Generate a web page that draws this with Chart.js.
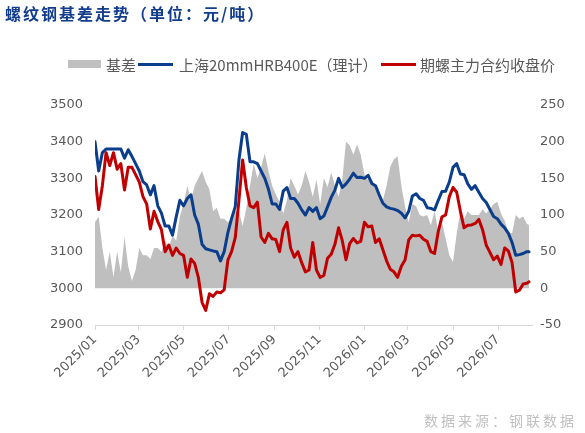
<!DOCTYPE html>
<html><head><meta charset="utf-8">
<script src="https://cdn.jsdelivr.net/npm/chart.js@4.4.1/dist/chart.umd.min.js"></script>
<style>
html,body{margin:0;padding:0;background:#fff;width:585px;height:433px;overflow:hidden;}
#wrap{position:relative;width:585px;height:433px;}
#c{position:absolute;left:0;top:0;}
.title{position:absolute;left:5px;top:5px;font:bold 16px "Noto Sans CJK SC";line-height:16px;letter-spacing:2px;color:#123c8c;white-space:nowrap;}
.lg{position:absolute;top:57px;font:15px "Noto Sans CJK SC";line-height:15px;color:#595959;white-space:nowrap;}
.sw{position:absolute;}
.src{position:absolute;left:424px;top:413px;font:14px "Noto Sans CJK SC";line-height:14px;color:#c0c0c0;letter-spacing:3px;white-space:nowrap;}
</style></head>
<body><div id="wrap">
<canvas id="c" width="585" height="433"></canvas>
<div class="title">螺纹钢基差走势（单位：元/吨）</div>
<div id="legend"></div>
<div class="src">数据来源：钢联数据</div>
</div>
<script>
const dates = [
'2025-01-01','2025-01-06','2025-01-11','2025-01-16','2025-01-21','2025-01-26','2025-01-31','2025-02-05','2025-02-10','2025-02-15',
'2025-02-20','2025-02-25','2025-03-02','2025-03-07','2025-03-12','2025-03-17','2025-03-22','2025-03-27','2025-04-01','2025-04-06',
'2025-04-11','2025-04-16','2025-04-21','2025-04-26','2025-05-01','2025-05-06','2025-05-11','2025-05-16','2025-05-21','2025-05-26',
'2025-05-31','2025-06-05','2025-06-10','2025-06-15','2025-06-20','2025-06-25','2025-06-30','2025-07-05','2025-07-10','2025-07-15',
'2025-07-20','2025-07-25','2025-07-30','2025-08-04','2025-08-09','2025-08-14','2025-08-19','2025-08-24','2025-08-29','2025-09-03',
'2025-09-08','2025-09-13','2025-09-18','2025-09-23','2025-09-28','2025-10-03','2025-10-08','2025-10-13','2025-10-18','2025-10-23',
'2025-10-28','2025-11-02','2025-11-07','2025-11-12','2025-11-17','2025-11-22','2025-11-27','2025-12-02','2025-12-07','2025-12-12',
'2025-12-17','2025-12-22','2025-12-27','2026-01-01','2026-01-06','2026-01-11','2026-01-16','2026-01-21','2026-01-26','2026-01-31',
'2026-02-05','2026-02-10','2026-02-15','2026-02-20','2026-02-25','2026-03-02','2026-03-07','2026-03-12','2026-03-17','2026-03-22',
'2026-03-27','2026-04-01','2026-04-06','2026-04-11','2026-04-16','2026-04-21','2026-04-26','2026-05-01','2026-05-06','2026-05-11',
'2026-05-16','2026-05-21','2026-05-26','2026-05-31','2026-06-05','2026-06-10','2026-06-15','2026-06-20','2026-06-25','2026-06-30',
'2026-07-05','2026-07-10','2026-07-15','2026-07-20','2026-07-25','2026-07-30','2026-08-04','2026-08-09','2026-08-12'
];
const basis = [
90,98,55,25,50,15,50,22,70,30,
10,25,55,45,45,40,55,55,50,65,
55,72,65,98,115,140,120,140,150,160,
145,135,105,110,95,95,90,95,105,105,
85,110,140,170,150,165,184,160,140,128,
118,102,120,150,140,128,140,160,145,125,
148,115,150,138,158,140,125,148,200,195,
182,196,182,155,148,148,135,124,120,140,
166,176,180,140,112,90,115,112,100,98,
100,86,105,78,90,68,45,36,75,105,
95,105,100,100,100,108,102,108,115,118,
102,92,76,75,100,95,98,88,86
];
const spot = [
3400,3320,3370,3380,3380,3380,3380,3380,3355,3378,
3360,3340,3320,3291,3282,3255,3280,3225,3205,3170,
3170,3145,3195,3240,3225,3245,3255,3200,3175,3120,
3108,3105,3102,3100,3075,3100,3152,3190,3223,3350,
3425,3420,3345,3345,3340,3320,3300,3270,3230,3230,
3215,3265,3275,3245,3245,3232,3214,3200,3220,3210,
3220,3190,3197,3222,3248,3268,3300,3275,3285,3298,
3314,3302,3303,3300,3308,3286,3280,3255,3232,3222,
3218,3216,3212,3205,3192,3210,3252,3258,3245,3240,
3220,3218,3214,3240,3264,3265,3290,3330,3340,3312,
3310,3285,3270,3280,3262,3245,3234,3215,3196,3190,
3175,3165,3150,3125,3090,3092,3095,3100,3100
];
const futures = [
3305,3215,3280,3370,3335,3370,3325,3340,3268,3330,
3330,3310,3290,3250,3230,3162,3210,3182,3160,3100,
3118,3090,3110,3095,3090,3030,3080,3068,3030,2962,
2940,2985,2978,2990,2988,2996,3077,3100,3138,3240,
3350,3275,3225,3220,3235,3140,3125,3150,3135,3133,
3100,3160,3180,3110,3085,3100,3070,3045,3050,3125,
3050,3030,3035,3082,3093,3120,3165,3130,3078,3122,
3136,3124,3128,3180,3168,3170,3125,3135,3105,3075,
3052,3045,3030,3060,3077,3132,3145,3143,3145,3134,
3128,3100,3095,3155,3195,3200,3250,3275,3262,3210,
3165,3172,3173,3177,3188,3160,3118,3098,3078,3088,
3065,3110,3102,3070,2990,2995,3012,3014,3018
];
const xTickDates = ['2025-01-01','2025-03-01','2025-05-01','2025-07-01','2025-09-01','2025-11-01','2026-01-01','2026-03-01','2026-05-01','2026-07-01'];
const xTickLabels = ['2025/01','2025/03','2025/05','2025/07','2025/09','2025/11','2026/01','2026/03','2026/05','2026/07'];
const xEndDate = '2026-08-16';
const leftRange = [2900, 3500, 100];
const rightRange = [-50, 250, 50];
const seriesNames = ['基差', '上海20mmHRB400E（理计）', '期螺主力合约收盘价'];

const BASE = Date.UTC(2025,0,1), DAY = 86400000;
function dayOf(s){const p=s.split('-').map(Number);return (Date.UTC(p[0],p[1]-1,p[2])-BASE)/DAY;}
const xs = dates.map(dayOf);
const pts = arr => arr.map((v,i)=>({x:xs[i], y:v}));
const tickVals = xTickDates.map(dayOf);

const tickFont = {family:'DejaVu Sans', size:13};
const chart = new Chart(document.getElementById('c'), {
  type:'line',
  data:{datasets:[
    {label:seriesNames[0], data:pts(basis), yAxisID:'y1', fill:'origin', backgroundColor:'#bfbfbf', borderColor:'rgba(0,0,0,0)', borderWidth:0, pointRadius:0, tension:0, order:3},
    {label:seriesNames[1], data:pts(spot), yAxisID:'y', fill:false, borderColor:'#0a3d8b', borderWidth:3, pointRadius:0, tension:0, borderJoinStyle:'round', borderCapStyle:'round', order:2},
    {label:seriesNames[2], data:pts(futures), yAxisID:'y', fill:false, borderColor:'#c00000', borderWidth:3, pointRadius:0, tension:0, borderJoinStyle:'round', borderCapStyle:'round', order:1}
  ]},
  options:{
    responsive:false, animation:false, devicePixelRatio:1,
    layout:{padding:{top:105,left:0,right:0,bottom:0}},
    plugins:{legend:{display:false}, tooltip:{enabled:false}, title:{display:false}},
    scales:{
      x:{type:'linear', min:0, max:dayOf(xEndDate),
        afterBuildTicks:s=>{s.ticks = tickVals.map(v=>({value:v}));},
        afterFit:s=>{s.height=108;},
        ticks:{autoSkip:false, minRotation:45, maxRotation:45, color:'#595959', font:tickFont, padding:2,
          callback:v=>{const i=tickVals.indexOf(v);return i>=0?xTickLabels[i]:'';}},
        grid:{drawOnChartArea:false, drawTicks:true, tickLength:5, color:'#d9d9d9'},
        border:{display:true, color:'#d9d9d9', width:1}
      },
      y:{position:'left', min:leftRange[0], max:leftRange[1],
        afterFit:s=>{s.width=95;},
        ticks:{stepSize:leftRange[2], color:'#595959', font:tickFont, padding:12, callback:v=>String(v)},
        grid:{display:false, drawTicks:false}, border:{display:false}
      },
      y1:{position:'right', min:rightRange[0], max:rightRange[1],
        afterFit:s=>{s.width=53;},
        ticks:{stepSize:rightRange[2], color:'#595959', font:tickFont, padding:8, callback:v=>String(v)},
        grid:{display:false, drawTicks:false}, border:{display:false}
      }
    }
  }
});

// HTML legend built from the chart's datasets
const lgPos = [
  {sx:68, sy:60, sw:33, sh:8, tx:106},
  {sx:138, sy:63, sw:35, sh:3, tx:179},
  {sx:381, sy:63, sw:35, sh:3, tx:420}
];
const lg = document.getElementById('legend');
chart.data.datasets.forEach((ds,i)=>{
  const p = lgPos[i];
  const sw = document.createElement('div');
  sw.className='sw';
  sw.style.cssText = `left:${p.sx}px;top:${p.sy}px;width:${p.sw}px;height:${p.sh}px;background:${i===0?ds.backgroundColor:ds.borderColor};`;
  lg.appendChild(sw);
  const t = document.createElement('div');
  t.className='lg'; t.style.left = p.tx+'px'; t.textContent = ds.label;
  lg.appendChild(t);
});
</script>
</body></html>
